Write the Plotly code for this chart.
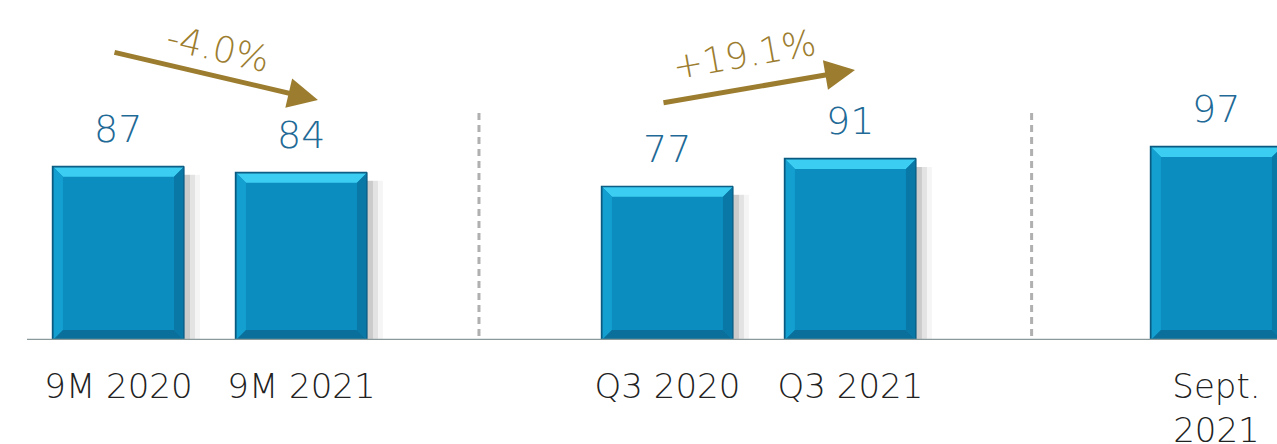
import plotly.graph_objects as go

# ---- data ----
categories = ["9M 2020", "9M 2021", "Q3 2020", "Q3 2021", "Sept.<br>2021"]
positions = [0, 1, 3, 4, 6]
values = [87, 84, 77, 91, 97]
separators = [1.97, 4.99]
change_labels = ["-4.0%", "+19.1%"]

# ---- styling / layout constants ----
W, H = 1277, 444
X_RANGE = [-0.6475, 6.331]
Y_RANGE = [0, 170.85]
PX_X = W / (X_RANGE[1] - X_RANGE[0])
PLOT_H = 340
PX_Y = PLOT_H / (Y_RANGE[1] - Y_RANGE[0])
BAR_W = 0.716
GOLD = "#9c7d2f"
BLUE_TXT = "#1f6a96"
FONT = "DejaVu Sans"

# annotation geometry (data units)
arrow_tails = [(-0.03, 144.7), (2.97, 119.1)]
arrow_tips = [(1.09, 120.6), (4.025, 135.7)]
label_pos = [(0.544, 146.7), (3.423, 143.7)]
label_angle = [13, -10]

fig = go.Figure()
fig.add_trace(go.Bar(
    x=positions, y=values, width=BAR_W,
    marker=dict(color="#0b8dc0", line=dict(color="#0a5a80", width=1.2)),
    hoverinfo="skip", showlegend=False,
))

shapes = []
bx = 10 / PX_X
by = 10 / PX_Y
for p, v in zip(positions, values):
    l, r = p - BAR_W / 2, p + BAR_W / 2
    # soft drop shadow
    for k, a in enumerate([0.10, 0.07, 0.04]):
        shapes.append(dict(type="rect", xref="x", yref="y", layer="below",
                           x0=r, x1=r + (6 + 5 * k) / PX_X, y0=0, y1=v - 8 / PX_Y,
                           fillcolor=f"rgba(0,0,0,{a})", line=dict(width=0)))
    # bevels
    shapes.append(dict(type="path", xref="x", yref="y", layer="above",
                       path=f"M{l},{v} L{r},{v} L{r-bx},{v-by} L{l+bx},{v-by} Z",
                       fillcolor="#3ccdf2", line=dict(width=0)))
    shapes.append(dict(type="path", xref="x", yref="y", layer="above",
                       path=f"M{l},{v} L{l+bx},{v-by} L{l+bx},{by} L{l},0 Z",
                       fillcolor="#139fd0", line=dict(width=0)))
    shapes.append(dict(type="path", xref="x", yref="y", layer="above",
                       path=f"M{r},{v} L{r-bx},{v-by} L{r-bx},{by} L{r},0 Z",
                       fillcolor="#0a78a6", line=dict(width=0)))
    shapes.append(dict(type="path", xref="x", yref="y", layer="above",
                       path=f"M{l},0 L{l+bx},{by} L{r-bx},{by} L{r},0 Z",
                       fillcolor="#0a6f9a", line=dict(width=0)))
    shapes.append(dict(type="rect", xref="x", yref="y", layer="above",
                       x0=l, x1=r, y0=0, y1=v, fillcolor="rgba(0,0,0,0)",
                       line=dict(color="#0a5a80", width=1.2)))

# baseline
shapes.append(dict(type="line", xref="x", yref="y", layer="above",
                   x0=-0.5, x1=X_RANGE[1], y0=0, y1=0,
                   line=dict(color="#8a9a9a", width=2.5)))
# separators
for s in separators:
    shapes.append(dict(type="line", xref="x", yref="y", layer="below",
                       x0=s, x1=s, y0=-4, y1=114.6,
                       line=dict(color="#b0b0b0", width=3, dash="7px,5px")))

annotations = []
for p, v in zip(positions, values):
    annotations.append(dict(x=p, y=v, xref="x", yref="y", text=str(v),
                            showarrow=False, yanchor="bottom", yshift=14,
                            font=dict(family=FONT, size=38, color=BLUE_TXT, weight=200)))
for (tx, ty), (hx, hy), (lx, ly), ang, txt in zip(arrow_tails, arrow_tips, label_pos,
                                                  label_angle, change_labels):
    annotations.append(dict(x=hx, y=hy, ax=tx, ay=ty, xref="x", yref="y",
                            axref="x", ayref="y", text="", showarrow=True,
                            arrowhead=2, arrowsize=1.2, arrowwidth=5,
                            arrowcolor=GOLD, standoff=0, startstandoff=0))
    annotations.append(dict(x=lx, y=ly, xref="x", yref="y", text=txt,
                            showarrow=False, textangle=ang,
                            font=dict(family=FONT, size=36, color=GOLD, weight=200)))

fig.update_layout(
    width=W, height=H,
    margin=dict(l=0, r=0, t=0, b=H - PLOT_H, autoexpand=False),
    paper_bgcolor="white", plot_bgcolor="white",
    shapes=shapes, annotations=annotations,
    xaxis=dict(range=X_RANGE, tickvals=positions, ticktext=categories,
               showgrid=False, zeroline=False, showline=False, automargin=False,
               ticks="outside", ticklen=16, tickcolor="rgba(0,0,0,0)",
               tickfont=dict(family=FONT, size=34, color="#222222", weight=200)),
    yaxis=dict(range=Y_RANGE, visible=False, showgrid=False, automargin=False),
    bargap=0,
)

fig.write_html("out.html")
